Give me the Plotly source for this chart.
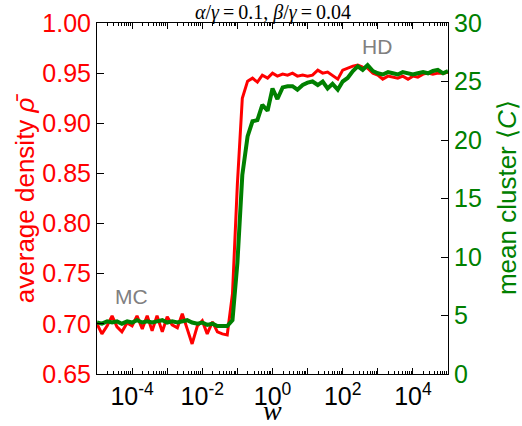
import plotly.graph_objects as go

# sampling exponents of w (log10)
log_w = [-5.00, -4.86, -4.71, -4.57, -4.43, -4.29, -4.14, -4.00, -3.86, -3.71,
         -3.57, -3.43, -3.29, -3.14, -3.00, -2.86, -2.71, -2.57, -2.43, -2.29,
         -2.14, -2.00, -1.86, -1.71, -1.57, -1.43, -1.29, -1.14, -1.00, -0.86,
         -0.71, -0.57, -0.43, -0.29, -0.14, 0.00, 0.14, 0.29, 0.43, 0.57,
         0.71, 0.86, 1.00, 1.14, 1.29, 1.43, 1.57, 1.71, 1.86, 2.00,
         2.14, 2.29, 2.43, 2.57, 2.71, 2.86, 3.00, 3.14, 3.29, 3.43,
         3.57, 3.71, 3.86, 4.00, 4.14, 4.29, 4.43, 4.57, 4.71, 4.86, 5.00]

rho = [0.700, 0.690, 0.698, 0.708, 0.697, 0.692, 0.701, 0.698, 0.708, 0.695,
       0.708, 0.693, 0.708, 0.692, 0.707, 0.699, 0.696, 0.710, 0.695, 0.680,
       0.698, 0.703, 0.690, 0.702, 0.692, 0.690, 0.689, 0.730, 0.840, 0.925,
       0.942, 0.945, 0.941, 0.948, 0.945, 0.950, 0.947, 0.949, 0.948, 0.950,
       0.947, 0.948, 0.947, 0.948, 0.953, 0.950, 0.951, 0.948, 0.944, 0.953,
       0.955, 0.957, 0.958, 0.956, 0.955, 0.950, 0.948, 0.944, 0.947, 0.946,
       0.945, 0.947, 0.944, 0.947, 0.946, 0.949, 0.950, 0.949, 0.950, 0.950, 0.951]

cluster = [4.4, 4.3, 4.5, 4.4, 4.5, 4.3, 4.5, 4.4, 4.6, 4.4,
           4.5, 4.4, 4.5, 4.6, 4.4, 4.5, 4.4, 4.5, 4.6, 4.4,
           4.3, 4.4, 4.2, 4.3, 4.1, 4.1, 4.1, 4.6, 9.5, 17.0,
           20.3, 21.6, 21.7, 23.0, 22.5, 24.4, 23.5, 24.5, 24.6, 24.6,
           24.3, 24.7, 24.9, 25.0, 24.7, 25.0, 24.4, 24.8, 24.3, 25.0,
           25.3, 25.9, 26.3, 26.0, 26.4, 25.9, 25.7, 25.6, 25.8, 25.7,
           25.6, 25.8, 25.7, 25.6, 25.7, 25.8, 25.7, 25.9, 26.0, 25.7, 25.9]

rho_ticks = [0.65, 0.70, 0.75, 0.80, 0.85, 0.90, 0.95, 1.00]
cluster_ticks = [0, 5, 10, 15, 20, 25, 30]
x_tick_exps = [-5, -4, -3, -2, -1, 0, 1, 2, 3, 4, 5]
x_tick_text = ["", "10<sup>-4</sup>", "", "10<sup>-2</sup>", "", "10<sup>0</sup>", "",
               "10<sup>2</sup>", "", "10<sup>4</sup>", ""]

w = [10 ** e for e in log_w]

SANS = "Liberation Sans, Arial, sans-serif"
SERIF = "Liberation Serif, DejaVu Serif, serif"
RED = "#ff0000"
GREEN = "#008000"

fig = go.Figure()
fig.add_trace(go.Scatter(x=w, y=rho, mode="lines", line=dict(color=RED, width=3),
                         showlegend=False))
fig.add_trace(go.Scatter(x=w, y=cluster, mode="lines", yaxis="y2",
                         line=dict(color=GREEN, width=4), showlegend=False))

minor_vals = [m * 10 ** d for d in range(-5, 5) for m in range(2, 10)]

fig.update_layout(
    width=522, height=426,
    margin=dict(l=97, r=74, t=23, b=52, autoexpand=False),
    paper_bgcolor="white", plot_bgcolor="white",
    xaxis=dict(type="log", range=[-5, 5], automargin=False,
               tickvals=[10 ** e for e in x_tick_exps], ticktext=x_tick_text,
               ticks="inside", ticklen=6, tickcolor="black",
               showline=True, linecolor="black", linewidth=1, mirror="ticks",
               showgrid=False, zeroline=False,
               tickfont=dict(family=SANS, size=25, color="black"),
               minor=dict(tickvals=minor_vals, ticks="inside", ticklen=3,
                          tickcolor="black", showgrid=False)),
    yaxis=dict(range=[0.65, 1.00], tickvals=rho_ticks, automargin=False,
               ticktext=["%.2f" % v for v in rho_ticks],
               ticks="inside", ticklen=7, tickcolor="black",
               showline=True, linecolor="black", linewidth=1,
               showgrid=False, zeroline=False,
               tickfont=dict(family=SANS, size=25, color=RED)),
    yaxis2=dict(range=[0, 30], tickvals=cluster_ticks, overlaying="y", side="right",
                automargin=False,
                ticks="inside", ticklen=7, tickcolor="black",
                showline=True, linecolor="black", linewidth=1,
                showgrid=False, zeroline=False,
                tickfont=dict(family=SANS, size=25, color=GREEN)),
    annotations=[
        dict(text="<i>α</i>/<i>γ</i>\u2009=\u20090.1, <i>β</i>/<i>γ</i>\u2009=\u20090.04",
             x=0.5, y=1.031,
             xref="paper", yref="paper", showarrow=False, xanchor="center", yanchor="middle",
             font=dict(family=SERIF, size=20, color="black")),
        dict(text="average density <i>ρ̄</i>", x=-0.205, y=0.501, textangle=-90,
             xref="paper", yref="paper", showarrow=False, xanchor="center", yanchor="middle",
             font=dict(family=SANS, size=26, color=RED)),
        dict(text="mean cluster ⟨<i>C</i>⟩", x=1.168, y=0.504, textangle=-90,
             xref="paper", yref="paper", showarrow=False, xanchor="center", yanchor="middle",
             font=dict(family=SANS, size=26, color=GREEN)),
        dict(text="<i>w</i>", x=0.5, y=-0.103,
             xref="paper", yref="paper", showarrow=False, xanchor="center", yanchor="middle",
             font=dict(family=SERIF, size=28, color="black")),
        dict(text="MC", x=0.0997, y=0.222,
             xref="paper", yref="paper", showarrow=False, xanchor="center", yanchor="middle",
             font=dict(family=SANS, size=21, color="gray")),
        dict(text="HD", x=0.798, y=0.932,
             xref="paper", yref="paper", showarrow=False, xanchor="center", yanchor="middle",
             font=dict(family=SANS, size=21, color="gray")),
    ],
)

fig.write_html("out.html", config={"displayModeBar": False},
               post_script="document.body.style.margin='0px';document.body.style.overflow='hidden';")
